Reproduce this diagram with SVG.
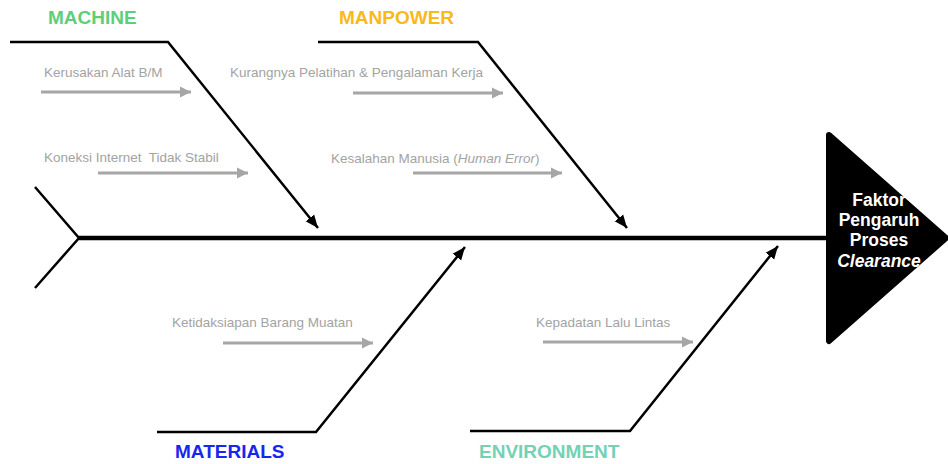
<svg xmlns="http://www.w3.org/2000/svg" width="948" height="464" viewBox="0 0 948 464">
<style>
.cat{font-family:"Liberation Sans",Arial,sans-serif;font-size:19px;font-weight:bold}
.cause{font-family:"Liberation Sans",Arial,sans-serif;font-size:13.5px;fill:#a3a3a3}
.head{font-family:"Liberation Sans",Arial,sans-serif;font-size:17.5px;font-weight:bold;fill:#fff;text-anchor:middle}
.bone{fill:none;stroke:#000;stroke-width:2.5;stroke-linejoin:miter}
.sub{fill:none;stroke:#a6a6a6;stroke-width:3}
</style>
<defs>
<marker id="ab" markerUnits="userSpaceOnUse" markerWidth="14" markerHeight="12" refX="13" refY="6" orient="auto">
<path d="M0,0.5 L13,6 L0,11.5 Z" fill="#000"/>
</marker>
<marker id="ag" markerUnits="userSpaceOnUse" markerWidth="12" markerHeight="12" refX="11" refY="6" orient="auto">
<path d="M0,0.5 L11,6 L0,11.5 Z" fill="#a6a6a6"/>
</marker>
</defs>
<rect width="948" height="464" fill="#fff"/>
<g id="connectors">
<line x1="79" y1="238" x2="828" y2="238" stroke="#000" stroke-width="4.5"/>
<polyline class="bone" points="35,187 79,238 35,288" stroke-width="3"/>
<polyline class="bone" points="10,42 168,42 318,228" marker-end="url(#ab)"/>
<polyline class="bone" points="318,42 478,42 627,228" marker-end="url(#ab)"/>
<polyline class="bone" points="157,432 316,432 465,247" marker-end="url(#ab)"/>
<polyline class="bone" points="470,431 630,431 778,246" marker-end="url(#ab)"/>
<line class="sub" x1="41" y1="92" x2="191" y2="92" marker-end="url(#ag)"/>
<line class="sub" x1="98" y1="173" x2="248" y2="173" marker-end="url(#ag)"/>
<line class="sub" x1="353" y1="93" x2="503" y2="93" marker-end="url(#ag)"/>
<line class="sub" x1="413" y1="173" x2="562" y2="173" marker-end="url(#ag)"/>
<line class="sub" x1="223" y1="343" x2="373" y2="343" marker-end="url(#ag)"/>
<line class="sub" x1="543" y1="342" x2="693" y2="342" marker-end="url(#ag)"/>
</g>
<g id="head">
<path d="M829,135 L946,238 L829,341 Z" fill="#000" stroke="#000" stroke-width="6" stroke-linejoin="round"/>
<text class="head" x="879" y="206">Faktor</text>
<text class="head" x="879" y="226">Pengaruh</text>
<text class="head" x="879" y="246">Proses</text>
<text class="head" x="879" y="267" font-style="italic">Clearance</text>
</g>
<g id="machine">
<text class="cat" x="48" y="24" fill="#5ccf78">MACHINE</text>
<text class="cause" x="44" y="77">Kerusakan Alat B/M</text>
<text class="cause" x="44" y="162" xml:space="preserve">Koneksi Internet  Tidak Stabil</text>
</g>
<g id="manpower">
<text class="cat" x="339" y="24" fill="#fbb917">MANPOWER</text>
<text class="cause" x="230" y="77">Kurangnya Pelatihan &amp; Pengalaman Kerja</text>
<text class="cause" x="331" y="163">Kesalahan Manusia (<tspan font-style="italic">Human Error</tspan>)</text>
</g>
<g id="materials">
<text class="cat" x="175" y="458" fill="#1a26f0">MATERIALS</text>
<text class="cause" x="172" y="327">Ketidaksiapan Barang Muatan</text>
</g>
<g id="environment">
<text class="cat" x="479" y="458" fill="#72d2b4">ENVIRONMENT</text>
<text class="cause" x="536" y="327">Kepadatan Lalu Lintas</text>
</g>
</svg>
